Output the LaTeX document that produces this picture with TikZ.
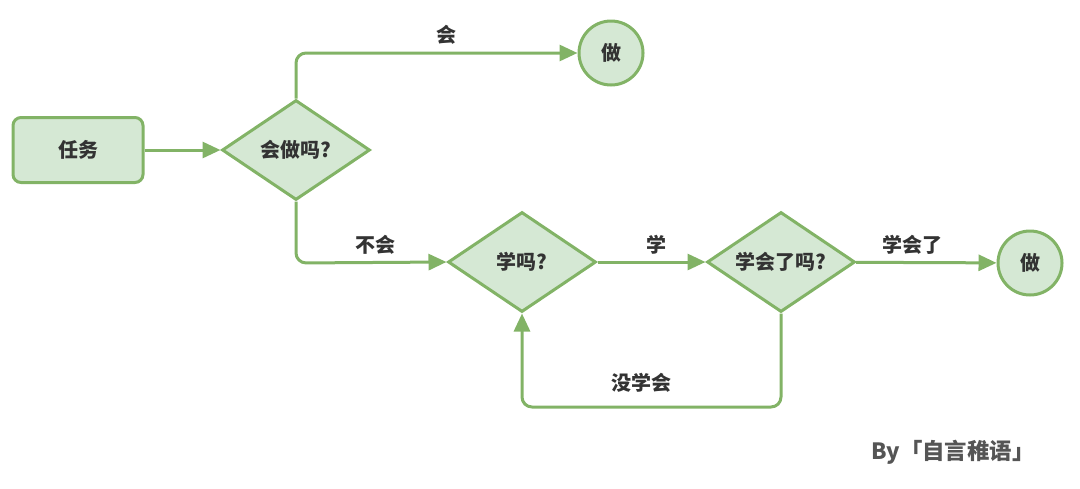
\documentclass[tikz,border=0pt]{standalone}
\usepackage{fontspec}
\newfontfamily\cjk{Noto Sans CJK SC}
\usetikzlibrary{shapes.geometric,arrows.meta}
\definecolor{gfill}{HTML}{D5E8D4}
\definecolor{gline}{HTML}{82B366}
\definecolor{txt}{HTML}{333333}
\definecolor{sig}{HTML}{555555}
\tikzset{
  base/.style={draw=gline, fill=gfill, line width=1.5pt, text=txt, font=\cjk\bfseries\fontsize{10}{11}\selectfont, inner sep=0pt},
  taskbox/.style={base, rectangle, rounded corners=4pt, minimum width=65pt, minimum height=32.5pt},
  decision/.style={base, diamond, minimum width=74pt, minimum height=50pt},
  endcircle/.style={base, circle, minimum size=32pt},
  conn/.style={draw=gline, line width=1.5pt, rounded corners=5pt, -{Triangle[length=9pt,width=8pt]}},
  lbl/.style={text=txt, font=\cjk\bfseries\fontsize{10}{11}\selectfont, inner sep=0pt}
}
\begin{document}
\begin{tikzpicture}[x=0.5pt,y=-0.5pt]
\useasboundingbox (0,0) rectangle (1080,488);
\node[taskbox] (task) at (78,150) {任务};
\node[decision] (q1) at (296,150) {\makebox[0pt]{会做吗?}};
\node[endcircle] (do1) at (611,53) {做};
\node[decision] (q2) at (522,262) {\makebox[0pt]{学吗?}};
\node[decision] (q3) at (781,262) {\makebox[0pt]{学会了吗?}};
\node[endcircle] (do2) at (1030,263) {做};
\coordinate (c1) at (296,53);
\coordinate (c2) at (296,263);
\coordinate (c3) at (781,407);
\coordinate (c4) at (522,407);
\draw[conn] (task) -- (q1);
\draw[conn] (q1.north) -- (c1) -- (do1.west);
\draw[conn] (q1.south) -- (c2) -- (q2.west);
\draw[conn] (q2) -- (q3);
\draw[conn] (q3) -- (do2);
\draw[conn] (q3.south) -- (c3) -- (c4) -- (q2.south);
\node[lbl] (l1) at (446,35) {会};
\node[lbl] (l2) at (375,245) {不会};
\node[lbl] (l3) at (656,245) {学};
\node[lbl] (l4) at (912,245) {学会了};
\node[lbl] (l5) at (641,383) {没学会};
\node[text=sig, font=\cjk\bfseries\fontsize{11.2}{13}\selectfont, inner sep=0pt] (sig) at (953,452) {By「自言稚语」};
\end{tikzpicture}
\end{document}
